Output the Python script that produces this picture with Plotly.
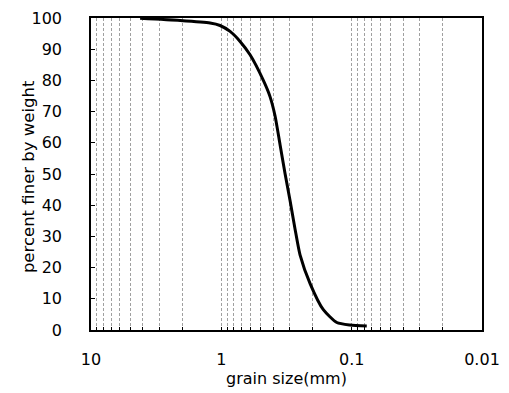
import plotly.graph_objects as go

grain_size_mm = [4.2, 2.07, 1.22, 1.023, 0.857, 0.718, 0.602, 0.476, 0.423, 0.387,
                 0.354, 0.324, 0.297, 0.272, 0.249, 0.208, 0.165, 0.130,
                 0.103, 0.0766]
percent_finer = [99.9, 99.2, 98.4, 97.6, 95.7, 92.5, 88.2, 80.0, 74.8, 68.6,
                 59.3, 50.0, 41.5, 32.4, 24.1, 14.8, 6.5, 2.4,
                 1.6, 1.3]

x_tick_vals = [10, 1, 0.1, 0.01]
x_tick_text = ["10", "1", "0.1", "0.01"]
y_tick_vals = [0, 10, 20, 30, 40, 50, 60, 70, 80, 90, 100]

# all log-minor positions for the vertical grid
grid_vals = []
for dec in [1, 0.1, 0.01]:
    for m in range(1, 10):
        grid_vals.append(round(m * dec, 6))
grid_vals.append(10)
grid_text = []
for v in grid_vals:
    grid_text.append(x_tick_text[x_tick_vals.index(v)] if v in x_tick_vals else "")

font = "DejaVu Sans, Arial, sans-serif"

fig = go.Figure()
fig.add_trace(go.Scatter(
    x=grain_size_mm, y=percent_finer, mode="lines",
    line=dict(color="black", width=3, shape="spline", smoothing=0.6),
    showlegend=False,
))

fig.update_layout(
    width=509, height=393,
    margin=dict(l=91, r=27, t=9, b=62),
    paper_bgcolor="white", plot_bgcolor="white",
    font=dict(family=font, color="black", size=16),
)
fig.update_xaxes(
    type="log", range=[1, -2],
    tickvals=grid_vals, ticktext=grid_text,
    showgrid=True, gridcolor="#a0a0a0", gridwidth=1, griddash="3px,2px",
    showline=True, linecolor="black", linewidth=1.5, mirror=True,
    ticks="inside", ticklen=3, tickcolor="black",
    tickfont=dict(size=16, family=font),
    ticklabelstandoff=14,
    title=dict(text="grain size(mm)", font=dict(size=16, family=font), standoff=4),
    zeroline=False,
)
fig.update_yaxes(
    range=[0, 100], tickvals=y_tick_vals,
    showgrid=False,
    showline=True, linecolor="black", linewidth=1.5, mirror=True,
    ticks="inside", ticklen=4, tickcolor="black",
    tickfont=dict(size=16, family=font),
    ticklabelstandoff=24,
    zeroline=False,
)
fig.add_annotation(
    text="percent finer by weight", textangle=-90,
    xref="paper", yref="paper", x=(28 - 91) / 391, y=0.49,
    xanchor="center", yanchor="middle", showarrow=False,
    font=dict(size=16.5, family=font, color="black"),
)

fig.write_html("out.html")
